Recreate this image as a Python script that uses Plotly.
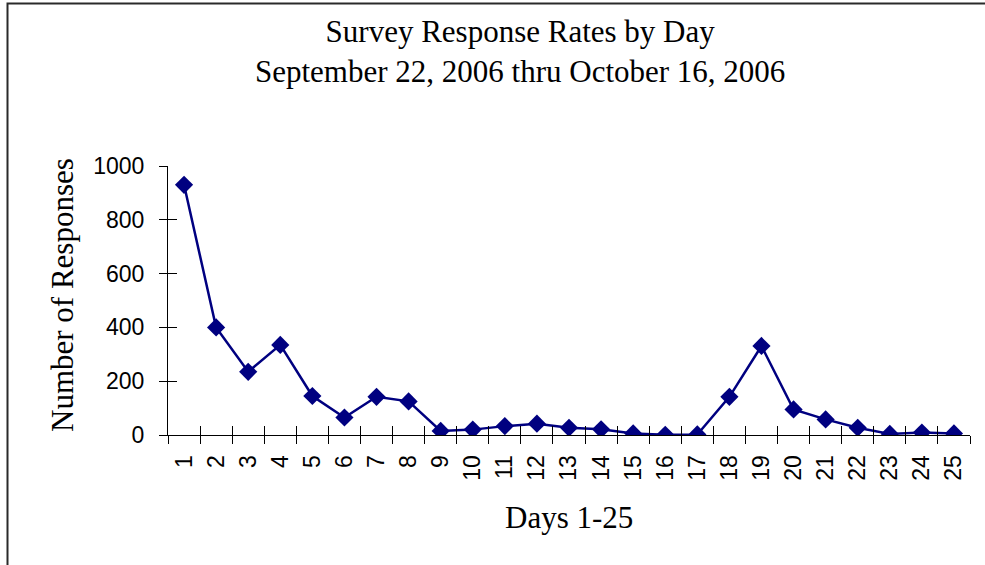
import plotly.graph_objects as go

# Daily survey responses, days 1-25 (Sept 22 - Oct 16, 2006)
days = list(range(1, 26))
responses = [930, 400, 235, 335, 145, 65, 142, 125, 15, 20,
             33, 42, 27, 21, 6, 1, 2, 142, 331, 95,
             58, 27, 4, 9, 6]
day_labels = [str(d) for d in days]
y_ticks = [0, 200, 400, 600, 800, 1000]

title_text = "Survey Response Rates by Day<br>September 22, 2006 thru October 16, 2006"
x_title = "Days 1-25"
y_title = "Number of Responses"

W, H = 985, 565
L, R, T, B = 168, 15, 166, 130
PW, PH = W - L - R, H - T - B

def px_x(p):
    return (p - L) / PW

def px_y(p):
    return (H - B - p) / PH

navy = "#000080"
serif = "Liberation Serif, Times New Roman, serif"
sans = "Liberation Sans, Arial, sans-serif"

# category boundaries for the between-category tick marks
bounds = [d - 0.5 for d in days] + [days[-1] + 0.5]

fig = go.Figure()
fig.add_trace(go.Scatter(
    x=days, y=responses, mode="lines+markers",
    line=dict(color=navy, width=2.5),
    marker=dict(symbol="diamond", size=14, color=navy),
    showlegend=False, hoverinfo="x+y",
))
# helper traces carrying the overlay axes used for crossing tick marks
fig.add_trace(go.Scatter(
    x=days, y=responses, xaxis="x2", yaxis="y2", mode="none",
    showlegend=False, hoverinfo="skip",
))
fig.add_trace(go.Scatter(
    x=days, y=responses, xaxis="x3", yaxis="y2", mode="none",
    showlegend=False, hoverinfo="skip",
))

xr = [days[0] - 0.5, days[-1] + 0.5]
yr = [0, 1000]

fig.update_layout(
    width=W, height=H,
    margin=dict(l=L, r=R, t=T, b=B, autoexpand=False),
    paper_bgcolor="white", plot_bgcolor="white",
    xaxis=dict(range=xr, tickmode="array", tickvals=days, ticktext=day_labels,
               tickangle=-90, ticks="outside", ticklen=10, tickcolor="rgba(0,0,0,0)",
               showline=True, linecolor="black", linewidth=1,
               showgrid=False, zeroline=False,
               tickfont=dict(family=sans, size=23, color="black")),
    yaxis=dict(range=yr, tickmode="array", tickvals=y_ticks,
               ticks="outside", ticklen=8, tickcolor="black",
               ticklabelstandoff=10,
               showline=True, linecolor="black", linewidth=1,
               showgrid=False, zeroline=False,
               tickfont=dict(family=sans, size=23, color="black")),
    xaxis2=dict(range=xr, overlaying="x", anchor="y2", side="bottom",
                tickmode="array", tickvals=bounds, showticklabels=False,
                ticks="outside", ticklen=8, tickcolor="black",
                showline=False, showgrid=False, zeroline=False),
    xaxis3=dict(range=xr, overlaying="x", anchor="y2", side="bottom",
                tickmode="array", tickvals=bounds, showticklabels=False,
                ticks="inside", ticklen=9, tickcolor="black",
                showline=False, showgrid=False, zeroline=False),
    yaxis2=dict(range=yr, overlaying="y", anchor="x2", side="left",
                tickmode="array", tickvals=y_ticks, showticklabels=False,
                ticks="inside", ticklen=9, tickcolor="black",
                showline=False, showgrid=False, zeroline=False),
    annotations=[
        dict(text=title_text, xref="paper", yref="paper",
             x=px_x(520), y=px_y(52), xanchor="center", yanchor="middle",
             showarrow=False, font=dict(family=serif, size=31, color="black")),
        dict(text=x_title, xref="paper", yref="paper",
             x=px_x(569), y=px_y(517), xanchor="center", yanchor="middle",
             showarrow=False, font=dict(family=serif, size=31, color="black")),
        dict(text=y_title, xref="paper", yref="paper", textangle=-90,
             x=px_x(62), y=px_y(295), xanchor="center", yanchor="middle",
             showarrow=False, font=dict(family=serif, size=31, color="black")),
    ],
    shapes=[
        # chart frame (continues past the right and bottom edges)
        dict(type="rect", xref="paper", yref="paper",
             x0=px_x(7.5), x1=px_x(1100), y0=px_y(3.5), y1=px_y(700),
             line=dict(color="#2a2a2a", width=2), fillcolor="rgba(0,0,0,0)",
             layer="below"),
    ],
)

fig.write_html("out.html")
